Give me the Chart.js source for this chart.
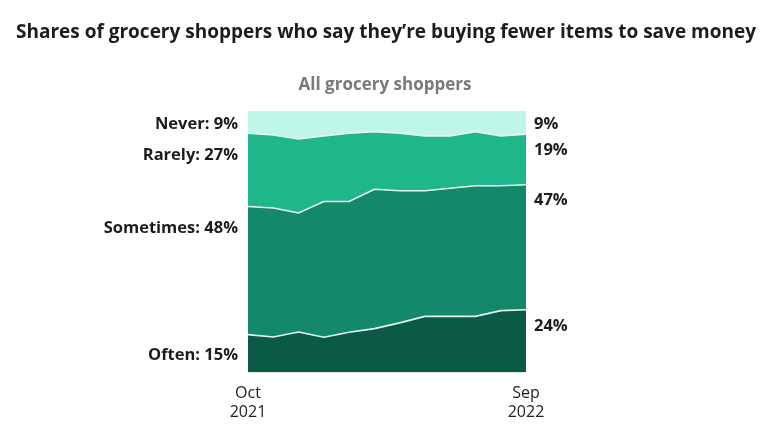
<!DOCTYPE html>
<html>
<head>
<meta charset="utf-8">
<script src="https://cdn.jsdelivr.net/npm/chart.js@4.4.1/dist/chart.umd.min.js"></script>
<style>
  html, body { margin: 0; padding: 0; background: #ffffff; }
  #wrap { width: 770px; height: 436px; }
</style>
</head>
<body>
<div id="wrap"><canvas id="chart" width="770" height="436"></canvas></div>
<script>
// Oct 2021 .. Sep 2022, share of shoppers (%)
const months = ['Oct 2021', 'Nov 2021', 'Dec 2021', 'Jan 2022', 'Feb 2022', 'Mar 2022',
                'Apr 2022', 'May 2022', 'Jun 2022', 'Jul 2022', 'Aug 2022', 'Sep 2022'];
const often     = [14.5, 13.6, 15.5, 13.5, 15.4, 16.8, 19.0, 21.5, 21.5, 21.5, 23.7, 24.0];
const sometimes = [49.0, 49.3, 45.5, 51.9, 50.0, 53.3, 50.5, 48.0, 49.0, 49.9, 47.7, 47.8];
const rarely    = [28.0, 27.9, 28.3, 25.1, 26.1, 22.0, 22.0, 21.0, 20.0, 20.7, 19.1, 19.3];
const never     = [8.5, 9.2, 10.7, 9.5, 8.5, 7.9, 8.5, 9.5, 9.5, 7.9, 9.5, 8.9];

const seriesNames = ['Often', 'Sometimes', 'Rarely', 'Never'];
const startLabels = ['Often: 15%', 'Sometimes: 48%', 'Rarely: 27%', 'Never: 9%'];
const endLabels = ['24%', '47%', '19%', '9%'];

const chartTitle = 'Shares of grocery shoppers who say they\u2019re buying fewer items to save money';
const chartSubtitle = 'All grocery shoppers';

const FONT = "'Open Sans', sans-serif";
const fills = ['#0b5a45', '#13886a', '#1fb68a', '#c0f6e8'];

// text annotations beside the plot (anchored to y values on the scale)
const labelPlugin = {
    id: 'sideLabels',
    afterDraw(chart) {
        const ctx = chart.ctx;
        const x = chart.scales.x;
        const y = chart.scales.y;
        const leftAnchors = [6.5, 55.3, 83.2, 95];
        const rightAnchors = [17.6, 66, 85.1, 95];

        ctx.save();
        ctx.fillStyle = '#1c1c1c';
        ctx.font = 'bold 19px ' + FONT;
        ctx.textAlign = 'center';
        ctx.textBaseline = 'middle';
        ctx.fillText(chartTitle, 386, 33);

        ctx.fillStyle = '#7a7a7a';
        ctx.font = 'bold 17px ' + FONT;
        ctx.fillText(chartSubtitle, 385, 85);

        ctx.fillStyle = '#1c1c1c';
        ctx.font = 'bold 16.5px ' + FONT;
        ctx.textAlign = 'right';
        startLabels.forEach((t, i) => {
            ctx.fillText(t, x.getPixelForValue(0) - 10, y.getPixelForValue(leftAnchors[i]));
        });
        ctx.textAlign = 'left';
        endLabels.forEach((t, i) => {
            ctx.fillText(t, x.getPixelForValue(months.length - 1) + 8, y.getPixelForValue(rightAnchors[i]));
        });
        ctx.restore();
    }
};

const data = [often, sometimes, rarely, never];

new Chart(document.getElementById('chart'), {
    type: 'line',
    data: {
        labels: months,
        datasets: data.map((values, i) => ({
            label: seriesNames[i],
            data: values,
            backgroundColor: fills[i],
            borderColor: i === 3 ? 'rgba(0,0,0,0)' : '#e6f7f0',
            borderWidth: 1.6,
            fill: i === 0 ? 'origin' : '-1',
            pointRadius: 0,
            tension: 0
        }))
    },
    options: {
        responsive: false,
        animation: false,
        layout: { padding: { left: 248, right: 244, top: 111, bottom: 11 } },
        plugins: {
            legend: { display: false },
            tooltip: { enabled: false }
        },
        scales: {
            x: {
                offset: false,
                grid: { display: false },
                border: { display: false },
                ticks: {
                    autoSkip: false,
                    maxRotation: 0,
                    padding: 3,
                    color: '#222',
                    font: { family: FONT, size: 16, lineHeight: 1.2 },
                    callback: function(value, index) {
                        if (index === 0 || index === months.length - 1) {
                            return months[index].split(' ');
                        }
                        return '';
                    }
                }
            },
            y: {
                display: false,
                stacked: true,
                min: 0,
                max: 100
            }
        }
    },
    plugins: [labelPlugin]
});
</script>
</body>
</html>
